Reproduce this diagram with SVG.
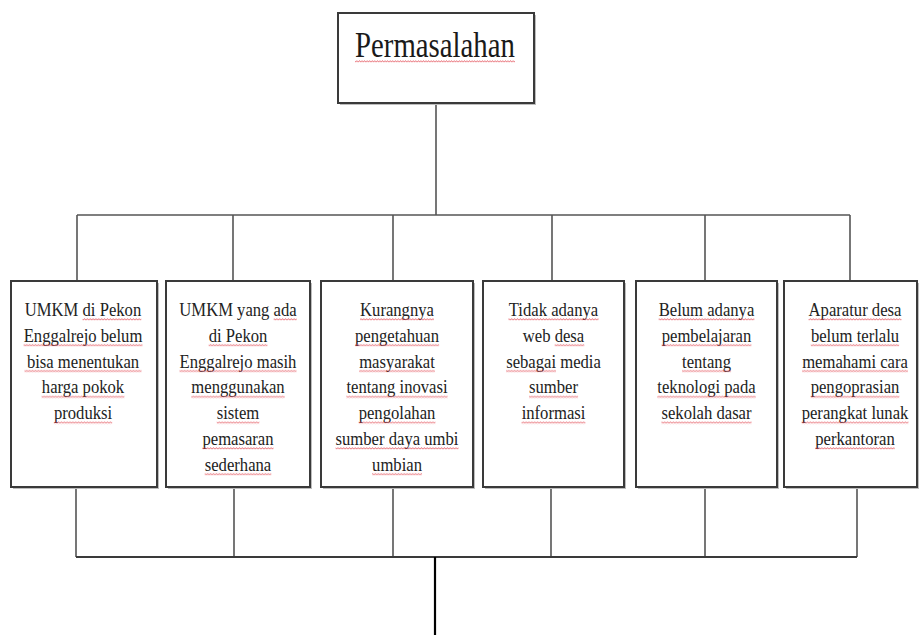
<svg xmlns="http://www.w3.org/2000/svg" width="919" height="635" viewBox="0 0 919 635">
<defs>
<pattern id="wv" patternUnits="userSpaceOnUse" width="3.2" height="3">
<path d="M0,2.4 L1.6,0.6 L3.2,2.4" fill="none" stroke="#e0404a" stroke-width="0.8"/>
</pattern>
</defs>
<style>
.box{fill:#fff;stroke:#3a3a3a;stroke-width:2}
.sh{fill:#bdbdbd}
.t{font-family:"Liberation Serif","Times New Roman",serif;font-size:18.5px;fill:#222;text-anchor:middle}
.title{font-family:"Liberation Serif","Times New Roman",serif;font-size:36px;fill:#1a1a1a;text-anchor:middle}
.w{fill:url(#wv)}
.ln{stroke:#555;stroke-width:1.6;fill:none}
.lk{stroke:#3a3a3a;stroke-width:2.2;fill:none}
</style>
<rect width="919" height="635" fill="#fff"/>
<g id="connectors">
<path class="ln" d="M436,103V215M77,215H850M77,215V281M233,215V281M393,215V281M552,215V281M705,215V281M850,215V281"/>
<path class="ln" d="M76,487V557M234,487V557M393,487V557M551,487V557M705,487V557M857,487V557"/>
<path class="lk" d="M76,557H857"/>
<path d="M435,557V635" stroke="#000" stroke-width="2.2" fill="none"/>
</g>
<g id="title">
<rect class="sh" x="340" y="15" width="196" height="90"/>
<rect class="box" x="338" y="13" width="196" height="90"/>
<g transform="translate(435,57) scale(0.8,1)">
<text class="title" x="0" y="0">Permasalahan</text>
<rect class="w" x="-100" y="0" width="200" height="3" transform="translate(0,3)"/>
</g>
</g>
<g id="n1">
<rect class="sh" x="13" y="283" width="146" height="206"/>
<rect class="box" x="11" y="281" width="146" height="206"/>
<g transform="translate(83,0) scale(0.9,1)">
<text class="t" x="0" y="316">UMKM di Pekon</text>
<text class="t" x="0" y="341.8">Enggalrejo belum</text>
<text class="t" x="0" y="367.6">bisa menentukan</text>
<text class="t" x="0" y="393.4">harga pokok</text>
<text class="t" x="0" y="419.2">produksi</text>
<rect class="w" x="-0.5" y="0" width="65.3" height="3" transform="translate(0,318)"/>
<rect class="w" x="-66" y="0" width="132.1" height="3" transform="translate(0,343.8)"/>
<rect class="w" x="-65" y="0" width="130" height="3" transform="translate(0,369.6)"/>
<rect class="w" x="-46" y="0" width="92" height="3" transform="translate(0,395.4)"/>
<rect class="w" x="-32.4" y="0" width="64.8" height="3" transform="translate(0,421.2)"/>
</g>
</g>
<g id="n2">
<rect class="sh" x="168" y="283" width="144" height="206"/>
<rect class="box" x="166" y="281" width="144" height="206"/>
<g transform="translate(238,0) scale(0.9,1)">
<text class="t" x="0" y="316">UMKM yang ada</text>
<text class="t" x="0" y="341.8">di Pekon</text>
<text class="t" x="0" y="367.6">Enggalrejo masih</text>
<text class="t" x="0" y="393.4">menggunakan</text>
<text class="t" x="0" y="419.2">sistem</text>
<text class="t" x="0" y="445">pemasaran</text>
<text class="t" x="0" y="470.8">sederhana</text>
<rect class="w" x="39.6" y="0" width="25.7" height="3" transform="translate(0,318)"/>
<rect class="w" x="-32.6" y="0" width="65.3" height="3" transform="translate(0,343.8)"/>
<rect class="w" x="-65" y="0" width="130" height="3" transform="translate(0,369.6)"/>
<rect class="w" x="-51.9" y="0" width="103.8" height="3" transform="translate(0,395.4)"/>
<rect class="w" x="-23.6" y="0" width="47.3" height="3" transform="translate(0,421.2)"/>
<rect class="w" x="-39.6" y="0" width="79.1" height="3" transform="translate(0,447)"/>
<rect class="w" x="-37" y="0" width="74" height="3" transform="translate(0,472.8)"/>
</g>
</g>
<g id="n3">
<rect class="sh" x="323" y="283" width="152" height="206"/>
<rect class="box" x="321" y="281" width="152" height="206"/>
<g transform="translate(397,0) scale(0.9,1)">
<text class="t" x="0" y="316">Kurangnya</text>
<text class="t" x="0" y="341.8">pengetahuan</text>
<text class="t" x="0" y="367.6">masyarakat</text>
<text class="t" x="0" y="393.4">tentang inovasi</text>
<text class="t" x="0" y="419.2">pengolahan</text>
<text class="t" x="0" y="445">sumber daya umbi</text>
<text class="t" x="0" y="470.8">umbian</text>
<rect class="w" x="-41.1" y="0" width="82.2" height="3" transform="translate(0,318)"/>
<rect class="w" x="-46.7" y="0" width="93.5" height="3" transform="translate(0,343.8)"/>
<rect class="w" x="-42.1" y="0" width="84.2" height="3" transform="translate(0,369.6)"/>
<rect class="w" x="-56.3" y="0" width="112.5" height="3" transform="translate(0,395.4)"/>
<rect class="w" x="-42.6" y="0" width="85.3" height="3" transform="translate(0,421.2)"/>
<rect class="w" x="-68.3" y="0" width="136.7" height="3" transform="translate(0,447)"/>
<rect class="w" x="-27.7" y="0" width="55.5" height="3" transform="translate(0,472.8)"/>
</g>
</g>
<g id="n4">
<rect class="sh" x="485" y="283" width="141" height="206"/>
<rect class="box" x="483" y="281" width="141" height="206"/>
<g transform="translate(553.5,0) scale(0.9,1)">
<text class="t" x="0" y="316">Tidak adanya</text>
<text class="t" x="0" y="341.8">web desa</text>
<text class="t" x="0" y="367.6">sebagai media</text>
<text class="t" x="0" y="393.4">sumber</text>
<text class="t" x="0" y="419.2">informasi</text>
<rect class="w" x="-50.1" y="0" width="100.2" height="3" transform="translate(0,318)"/>
<rect class="w" x="1.3" y="0" width="32.9" height="3" transform="translate(0,343.8)"/>
<rect class="w" x="-52.7" y="0" width="55.5" height="3" transform="translate(0,369.6)"/>
<rect class="w" x="-27.2" y="0" width="54.5" height="3" transform="translate(0,395.4)"/>
<rect class="w" x="-35.5" y="0" width="70.9" height="3" transform="translate(0,421.2)"/>
</g>
</g>
<g id="n5">
<rect class="sh" x="638" y="283" width="141" height="206"/>
<rect class="box" x="636" y="281" width="141" height="206"/>
<g transform="translate(706.5,0) scale(0.9,1)">
<text class="t" x="0" y="316">Belum adanya</text>
<text class="t" x="0" y="341.8">pembelajaran</text>
<text class="t" x="0" y="367.6">tentang</text>
<text class="t" x="0" y="393.4">teknologi pada</text>
<text class="t" x="0" y="419.2">sekolah dasar</text>
<rect class="w" x="-53.2" y="0" width="106.4" height="3" transform="translate(0,318)"/>
<rect class="w" x="-49.8" y="0" width="99.7" height="3" transform="translate(0,343.8)"/>
<rect class="w" x="-27.2" y="0" width="54.5" height="3" transform="translate(0,369.6)"/>
<rect class="w" x="-54.7" y="0" width="109.4" height="3" transform="translate(0,395.4)"/>
<rect class="w" x="-50.1" y="0" width="100.2" height="3" transform="translate(0,421.2)"/>
</g>
</g>
<g id="n6">
<rect class="sh" x="786" y="283" width="133" height="206"/>
<rect class="box" x="784" y="281" width="133" height="206"/>
<g transform="translate(855,0) scale(0.9,1)">
<text class="t" x="0" y="316">Aparatur desa</text>
<text class="t" x="0" y="341.8">belum terlalu</text>
<text class="t" x="0" y="367.6">memahami cara</text>
<text class="t" x="0" y="393.4">pengoprasian</text>
<text class="t" x="0" y="419.2">perangkat lunak</text>
<text class="t" x="0" y="445">perkantoran</text>
<rect class="w" x="-51.6" y="0" width="103.2" height="3" transform="translate(0,318)"/>
<rect class="w" x="-49.1" y="0" width="98.1" height="3" transform="translate(0,343.8)"/>
<rect class="w" x="-58.8" y="0" width="117.6" height="3" transform="translate(0,369.6)"/>
<rect class="w" x="-49.3" y="0" width="98.6" height="3" transform="translate(0,395.4)"/>
<rect class="w" x="-59.3" y="0" width="118.7" height="3" transform="translate(0,421.2)"/>
<rect class="w" x="-44.2" y="0" width="88.4" height="3" transform="translate(0,447)"/>
</g>
</g>
</svg>
